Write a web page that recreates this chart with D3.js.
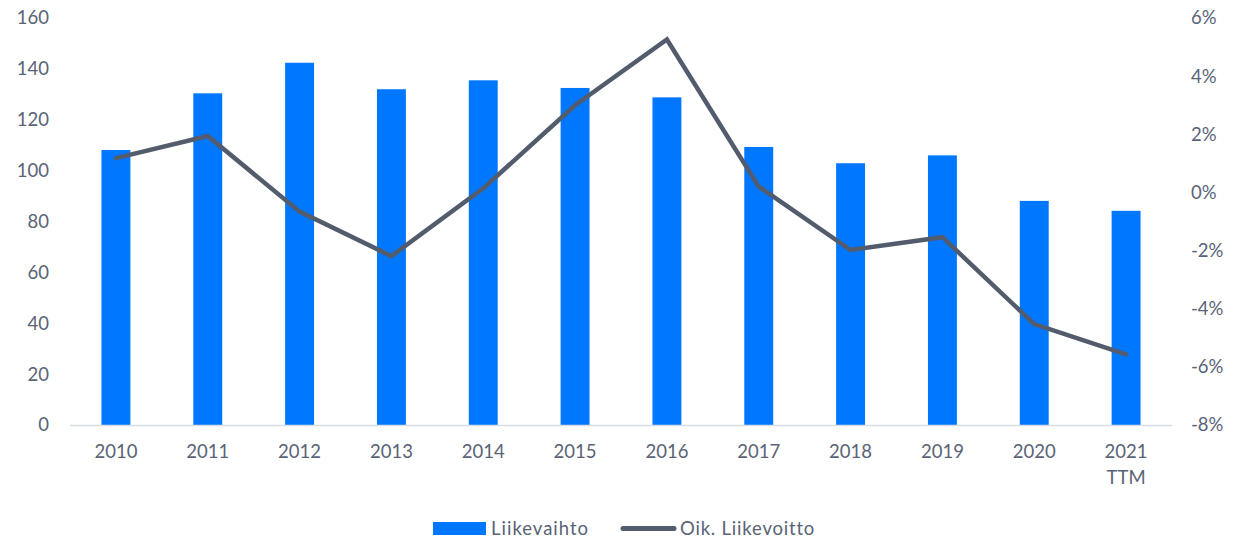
<!DOCTYPE html>
<html>
<head>
<meta charset="utf-8">
<script src="https://cdn.jsdelivr.net/npm/d3@7"></script>
<style>
  body { margin: 0; background: #fff; }
  text { font-family: Lato, "Open Sans", sans-serif; fill: #596376; }
</style>
</head>
<body>
<svg id="chart" width="1245" height="538"></svg>
<script>
var years = ["2010", "2011", "2012", "2013", "2014", "2015", "2016", "2017", "2018", "2019", "2020", "2021"];
var subLabels = ["", "", "", "", "", "", "", "", "", "", "", "TTM"];
var liikevaihto = [108.1, 130.4, 142.4, 132.0, 135.5, 132.5, 128.8, 109.3, 102.9, 106.0, 88.1, 84.2];
var liikevoitto = [1.18, 1.94, -0.66, -2.19, 0.14, 3.0, 5.26, 0.2, -1.98, -1.54, -4.53, -5.57];
var leftTicks = [0, 20, 40, 60, 80, 100, 120, 140, 160];
var rightTicks = [-8, -6, -4, -2, 0, 2, 4, 6];

var svg = d3.select("#chart");
var plotLeft = 70, plotRight = 1172, plotTop = 18, plotBottom = 425;

var x = d3.scaleBand()
  .domain(years)
  .range([plotLeft, plotRight])
  .paddingInner(0.685)
  .paddingOuter(0.3425);

var y = d3.scaleLinear().domain([0, 160]).range([plotBottom, plotTop]);
var y2 = d3.scaleLinear().domain([-8, 6]).range([plotBottom, plotTop]);

// left ticks
svg.append("g")
  .selectAll("text")
  .data(leftTicks)
  .enter()
  .append("text")
  .attr("x", 49)
  .attr("y", function(d) { return y(d); })
  .attr("dy", "0.35em")
  .attr("text-anchor", "end")
  .style("font-size", "18.5px")
  .text(function(d) { return d; });

// right ticks
svg.append("g")
  .selectAll("text")
  .data(rightTicks)
  .enter()
  .append("text")
  .attr("x", 1191)
  .attr("y", function(d) { return y2(d); })
  .attr("dy", "0.35em")
  .attr("text-anchor", "start")
  .style("font-size", "18.5px")
  .text(function(d) { return d + "%"; });

// bars
svg.append("g")
  .selectAll("rect")
  .data(liikevaihto)
  .enter()
  .append("rect")
  .attr("x", function(d, i) { return x(years[i]); })
  .attr("y", function(d) { return y(d); })
  .attr("width", x.bandwidth())
  .attr("height", function(d) { return y(0) - y(d); })
  .attr("fill", "#0077ff");

// baseline
svg.append("line")
  .attr("x1", plotLeft)
  .attr("x2", plotRight)
  .attr("y1", plotBottom + 0.5)
  .attr("y2", plotBottom + 0.5)
  .attr("stroke", "#d9dee6")
  .attr("stroke-width", 1.5);

// x labels
svg.append("g")
  .selectAll("text")
  .data(years)
  .enter()
  .append("text")
  .attr("x", function(d) { return x(d) + x.bandwidth() / 2; })
  .attr("y", 452)
  .attr("dy", "0.35em")
  .attr("text-anchor", "middle")
  .style("font-size", "18.5px")
  .text(function(d) { return d; });

svg.append("g")
  .selectAll("text")
  .data(subLabels)
  .enter()
  .append("text")
  .attr("x", function(d, i) { return x(years[i]) + x.bandwidth() / 2; })
  .attr("y", 478)
  .attr("dy", "0.35em")
  .attr("text-anchor", "middle")
  .style("font-size", "18.5px")
  .text(function(d) { return d; });

// line
var line = d3.line()
  .x(function(d, i) { return x(years[i]) + x.bandwidth() / 2; })
  .y(function(d) { return y2(d); });

svg.append("path")
  .datum(liikevoitto)
  .attr("d", line)
  .attr("fill", "none")
  .attr("stroke", "#525c6d")
  .attr("stroke-width", 4.5)
  .attr("stroke-linejoin", "miter")
  .attr("stroke-linecap", "round");

// legend
svg.append("rect")
  .attr("x", 433)
  .attr("y", 522)
  .attr("width", 53)
  .attr("height", 13)
  .attr("fill", "#0077ff");

svg.append("text")
  .attr("x", 491)
  .attr("y", 528.5)
  .attr("dy", "0.35em")
  .style("font-size", "18.5px")
  .style("letter-spacing", "1px")
  .text("Liikevaihto");

svg.append("line")
  .attr("x1", 623)
  .attr("x2", 674)
  .attr("y1", 528.5)
  .attr("y2", 528.5)
  .attr("stroke", "#525c6d")
  .attr("stroke-width", 5)
  .attr("stroke-linecap", "round");

svg.append("text")
  .attr("x", 680)
  .attr("y", 528.5)
  .attr("dy", "0.35em")
  .style("font-size", "18.5px")
  .style("letter-spacing", "0.8px")
  .text("Oik. Liikevoitto");
</script>
</body>
</html>
